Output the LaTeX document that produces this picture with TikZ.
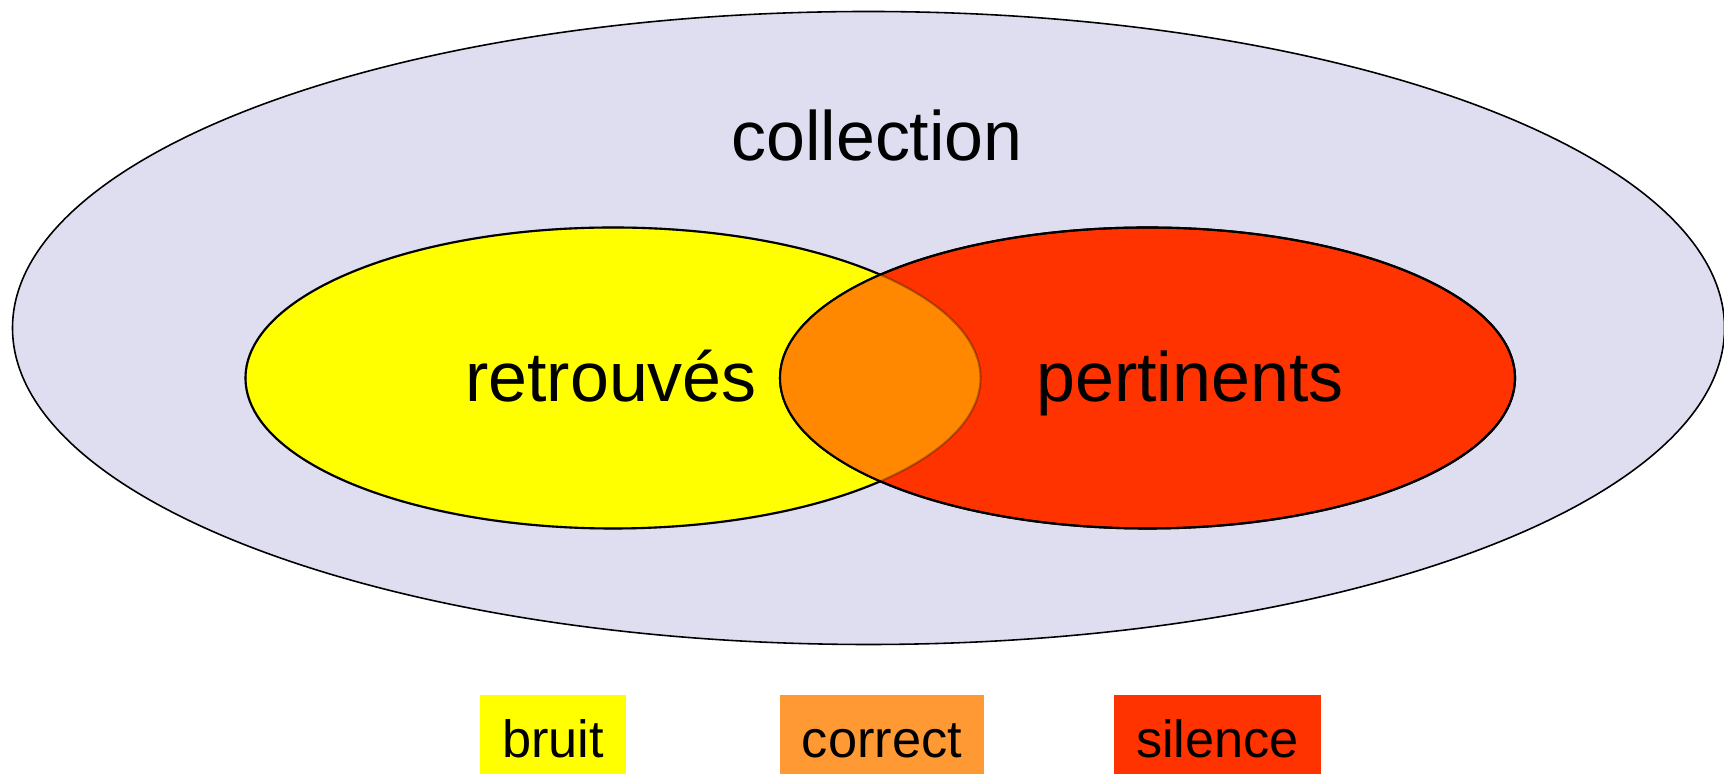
\documentclass[tikz,border=0pt]{standalone}
\usepackage{fontspec}
\setmainfont{Liberation Sans}
\usepackage{tikz}
\tikzset{>=latex}
\definecolor{lavande}{RGB}{222,222,240}
\definecolor{jaune}{RGB}{255,255,0}
\definecolor{rouge}{RGB}{255,51,0}
\definecolor{inter}{RGB}{255,136,0}
\definecolor{correct}{RGB}{255,153,51}
\tikzset{grand/.style={font=\fontsize{19.9}{24}\selectfont, anchor=base, inner sep=0pt},
    legende/.style={font=\fontsize{14.9}{18}\selectfont, minimum height=.88cm, text height=.38cm, text depth=0cm, inner sep=0pt},
    ens/.style={x radius=3.675, y radius=1.505}}

\begin{document}
\begin{tikzpicture}
    \useasboundingbox(0, 0) rectangle (17.24, 7.74);
    \coordinate (coll) at (8.685, 4.46);
    \coordinate (retr) at (6.13, 3.96);
    \coordinate (pert) at (11.475, 3.96);
    \draw[fill=lavande, line width=.45pt](coll) ellipse [x radius=8.56, y radius=3.165];
    \draw[fill=jaune, line width=.6pt](retr) ellipse [ens];
    \draw[fill=rouge, line width=.6pt](pert) ellipse [ens];
    \begin{scope}
        \clip(retr) ellipse [ens];
        \fill[inter](pert) ellipse [ens];
    \end{scope}
    \draw[line width=.6pt, draw opacity=.3](retr) ellipse [ens];
    \draw[line width=.6pt](pert) ellipse [ens];
    \node[grand] (tcoll) at (8.77, 6.135) {collection};
    \node[grand] (tretr) at (6.11, 3.72) {retrouvés};
    \node[grand] (tpert) at (11.9, 3.72) {pertinents};
    \node[legende, fill=jaune, minimum width=1.46cm] (bruit) at (5.53, .35) {bruit};
    \node[legende, fill=correct, minimum width=2.04cm] (correct) at (8.82, .35) {correct};
    \node[legende, fill=rouge, minimum width=2.07cm] (silence) at (12.175, .35) {silence};
\end{tikzpicture}
\end{document}
